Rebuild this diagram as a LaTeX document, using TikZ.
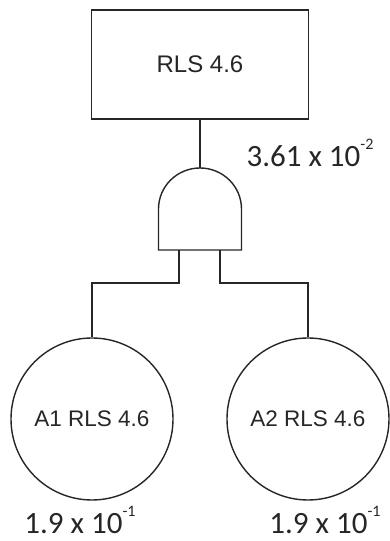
\documentclass[tikz,border=0pt]{standalone}
\usepackage{fontspec}
\setmainfont{Liberation Sans}
\newfontfamily\calfont{Carlito}
\usetikzlibrary{positioning,calc}
\tikzset{
  evbox/.style={draw,line width=1.6pt,minimum width=217pt,minimum height=109pt,
    inner sep=0pt,font=\fontsize{24}{28}\selectfont},
  basicev/.style={draw,circle,line width=1.4pt,minimum size=162pt,inner sep=0pt,
    font=\fontsize{22.5}{26}\selectfont},
  wire/.style={line width=1.4pt},
  prob/.style={font=\calfont\fontsize{31}{36}\selectfont,anchor=base,inner sep=0pt},
}
\newcommand{\expo}[1]{\raisebox{1.15ex}{\fontsize{16}{16}\selectfont#1}}

\begin{document}
\begin{tikzpicture}[x=1pt,y=1pt,black!85]
  \useasboundingbox (0,0) rectangle (389,541);
  % top event
  \node[evbox] (top) at (200,476.5) {RLS 4.6};
  % AND gate
  \draw[wire] (158.5,291) -- (158.5,332)
    arc[start angle=180,end angle=0,x radius=41.5,y radius=41] -- (241.5,291) -- cycle;
  \coordinate (gout) at (200,373);
  \coordinate (gin1) at (179,291);
  \coordinate (gin2) at (220,291);
  % basic events
  \node[basicev] (a1) at (92,122) {A1 RLS 4.6};
  \node[basicev] (a2) at (308,122) {A2 RLS 4.6};
  % connectors
  \draw[wire] (top.south) -- (gout);
  \draw[wire] (gin1) -- ++(0,-33) -| (a1.north);
  \draw[wire] (gin2) -- ++(0,-33) -| (a2.north);
  % probabilities
  \node[prob] (pg) at (310,374) {3.61 x 10\expo{-2}};
  \node[prob] (p1) at (80,7) {1.9 x 10\expo{-1}};
  \node[prob] (p2) at (325,7) {1.9 x 10\expo{-1}};
\end{tikzpicture}
\end{document}
